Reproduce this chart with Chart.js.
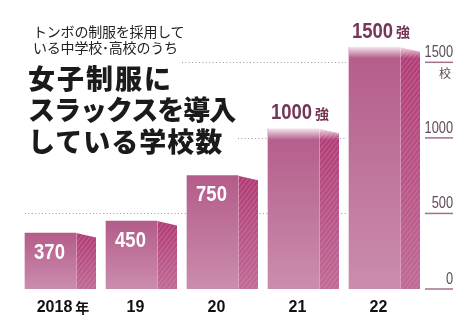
<!DOCTYPE html>
<html>
<head>
<meta charset="utf-8">
<script src="https://cdn.jsdelivr.net/npm/chart.js@4.4.1/dist/chart.umd.min.js"></script>
<style>
html, body { margin: 0; padding: 0; background: #fff; }
#wrap { position: relative; width: 474px; height: 336px; overflow: hidden; }
#wrap canvas { position: absolute; left: 0; top: 0; }
.sub { position: absolute; left: 33px; font-family: "Noto Sans CJK JP"; font-size: 14px; line-height: 14px; color: #222; white-space: nowrap; letter-spacing: -0.2px; }
.ttl { position: absolute; left: 28px; font-family: "Noto Sans CJK JP"; font-weight: 900; font-size: 27px; line-height: 27px; color: #1a1a1a; white-space: nowrap; }
</style>
</head>
<body>
<div id="wrap">
  <canvas id="chart" width="474" height="336"></canvas>
  <div class="sub" style="top:24px">トンボの制服を採用して</div>
  <div class="sub" style="top:40px">いる中学校･高校のうち</div>
  <div class="ttl" style="top:64px; letter-spacing:2px">女子制服に</div>
  <div class="ttl" style="top:95px; letter-spacing:-1px">スラックスを導入</div>
  <div class="ttl" style="top:127px; letter-spacing:1px">している学校数</div>
</div>
<script>
// datos
const years = ['2018', '19', '20', '21', '22'];
const counts = [370, 450, 750, 1060, 1600];
const valueLabels = ['370', '450', '750', '1000', '1500'];
const valueSuffix = ['', '', '', '強', '強'];
const yTicks = [0, 500, 1000, 1500];
const gridValues = [500, 1000, 1500];

const sans = '"Liberation Sans", Arial';

// texto estrecho (no hay fuente condensada instalada)
function narrowText(ctx, text, x, y, sx) {
  ctx.save();
  ctx.translate(x, y);
  ctx.scale(sx, 1);
  ctx.fillText(text, 0, 0);
  ctx.restore();
}

// lineas punteadas detras de las barras
const dottedGrid = {
  id: 'dottedGrid',
  beforeDatasetsDraw(chart) {
    const ctx = chart.ctx;
    const ys = chart.scales.y;
    const starts = { 500: 25, 1000: 238, 1500: 182 };
    ctx.save();
    ctx.strokeStyle = '#9a9a9a';
    ctx.lineWidth = 1;
    ctx.setLineDash([1, 2.4]);
    gridValues.forEach(v => {
      const y = Math.round(ys.getPixelForValue(v)) + 0.5;
      ctx.beginPath();
      ctx.moveTo(starts[v], y);
      ctx.lineTo(347, y);
      ctx.stroke();
    });
    ctx.restore();
  }
};

// cara lateral con rayas
const sideFace = {
  id: 'sideFace',
  afterDatasetsDraw(chart) {
    const ctx = chart.ctx;
    const meta = chart.getDatasetMeta(0);
    meta.data.forEach((bar, i) => {
      const p = bar.getProps(['x', 'y', 'base', 'width'], true);
      const x0 = p.x + p.width / 2;
      const x1 = x0 + 20;
      const top = p.y;
      const drop = 4.5;
      ctx.save();
      ctx.beginPath();
      ctx.moveTo(x0, top);
      ctx.lineTo(x1, top + drop);
      ctx.lineTo(x1, p.base);
      ctx.lineTo(x0, p.base);
      ctx.closePath();
      const g = ctx.createLinearGradient(0, top, 0, p.base);
      g.addColorStop(0, '#b13c76');
      g.addColorStop(1, '#c06c97');
      ctx.fillStyle = g;
      ctx.fill();
      ctx.clip();
      ctx.strokeStyle = 'rgba(225, 160, 195, 0.5)';
      ctx.lineWidth = 0.8;
      for (let k = top - 40; k < p.base + 40; k += 6) {
        ctx.beginPath();
        ctx.moveTo(x0, k + 26);
        ctx.lineTo(x1, k);
        ctx.stroke();
      }
      ctx.restore();

      // borde claro entre frente y lado
      ctx.save();
      ctx.strokeStyle = 'rgba(240, 200, 220, 0.55)';
      ctx.lineWidth = 1;
      ctx.beginPath();
      ctx.moveTo(x0 + 0.5, top);
      ctx.lineTo(x0 + 0.5, p.base);
      ctx.stroke();
      ctx.restore();

      // desvanecido arriba en las dos ultimas
      if (valueSuffix[i]) {
        ctx.save();
        const f = ctx.createLinearGradient(0, top - 1, 0, top + 11);
        f.addColorStop(0, 'rgba(255,255,255,0.9)');
        f.addColorStop(1, 'rgba(255,255,255,0)');
        ctx.fillStyle = f;
        ctx.fillRect(p.x - p.width / 2, top - 1, p.width + 20, 12 + drop);
        ctx.restore();
      }

      // etiquetas de valor
      ctx.save();
      ctx.textBaseline = 'alphabetic';
      ctx.font = 'bold 22px ' + sans;
      if (!valueSuffix[i]) {
        ctx.fillStyle = '#ffffff';
        ctx.textAlign = 'center';
        narrowText(ctx, valueLabels[i], p.x - 1, top + 25.5, 0.84);
      } else {
        ctx.fillStyle = '#763656';
        ctx.textAlign = 'left';
        const lx = p.x - p.width / 2 + 3;
        narrowText(ctx, valueLabels[i], lx, top - 9.5, 0.84);
        const w = ctx.measureText(valueLabels[i]).width * 0.84;
        ctx.font = 'bold 14px "Noto Sans CJK JP"';
        ctx.fillText(valueSuffix[i], lx + w + 3, top - 10);
      }
      ctx.restore();
    });
  }
};

// eje derecho con subrayados
const rightAxis = {
  id: 'rightAxis',
  afterDraw(chart) {
    const ctx = chart.ctx;
    const ys = chart.scales.y;
    ctx.save();
    yTicks.forEach(v => {
      const y = ys.getPixelForValue(v);
      ctx.strokeStyle = '#a0708f';
      ctx.lineWidth = 1.5;
      ctx.beginPath();
      ctx.moveTo(425, y);
      ctx.lineTo(453, y);
      ctx.stroke();
      ctx.font = '16px ' + sans;
      ctx.fillStyle = '#5e4a5a';
      ctx.textAlign = 'right';
      ctx.textBaseline = 'alphabetic';
      narrowText(ctx, String(v), 453, y - 5, 0.8);
    });
    const y15 = ys.getPixelForValue(1500);
    ctx.font = '12px "Noto Sans CJK JP"';
    ctx.textAlign = 'center';
    ctx.textBaseline = 'top';
    ctx.fillText('校', 445, y15 + 5);

    // "年" junto al primer año
    const xs = chart.scales.x;
    const x0 = xs.getPixelForTick(0) + 4;
    ctx.font = 'bold 16px ' + sans;
    const w = ctx.measureText(years[0]).width;
    ctx.font = 'bold 14px "Noto Sans CJK JP"';
    ctx.fillStyle = '#111';
    ctx.textAlign = 'left';
    ctx.textBaseline = 'alphabetic';
    ctx.fillText('年', x0 + w / 2 + 3, 312.5);
    ctx.restore();
  }
};

const ctx = document.getElementById('chart').getContext('2d');
const chart = new Chart(ctx, {
  type: 'bar',
  data: {
    labels: years,
    datasets: [{
      data: counts,
      barThickness: 51,
      borderWidth: 0,
      backgroundColor: function(c) {
        const area = c.chart.chartArea;
        if (!area || c.type !== 'data') return '#c07a9f';
        const ys = c.chart.scales.y;
        const top = ys.getPixelForValue(counts[c.dataIndex]);
        const base = ys.getPixelForValue(0);
        const g = c.chart.ctx.createLinearGradient(0, top, 0, base);
        g.addColorStop(0, '#b35c8a');
        g.addColorStop(1, '#cb8dad');
        return g;
      }
    }]
  },
  options: {
    responsive: false,
    animation: false,
    layout: { padding: { left: 10, right: 59, top: 17, bottom: 0 } },
    plugins: {
      legend: { display: false },
      tooltip: { enabled: false }
    },
    scales: {
      x: {
        grid: { display: false, drawTicks: false },
        border: { display: false },
        ticks: {
          color: '#111',
          font: { family: sans, size: 16, weight: 'bold' },
          padding: 9,
          labelOffset: 4
        },
        afterFit: function(scale) { scale.height = 47; }
      },
      y: {
        display: false,
        min: 0,
        max: 1800
      }
    }
  },
  plugins: [dottedGrid, sideFace, rightAxis]
});
</script>
</body>
</html>
